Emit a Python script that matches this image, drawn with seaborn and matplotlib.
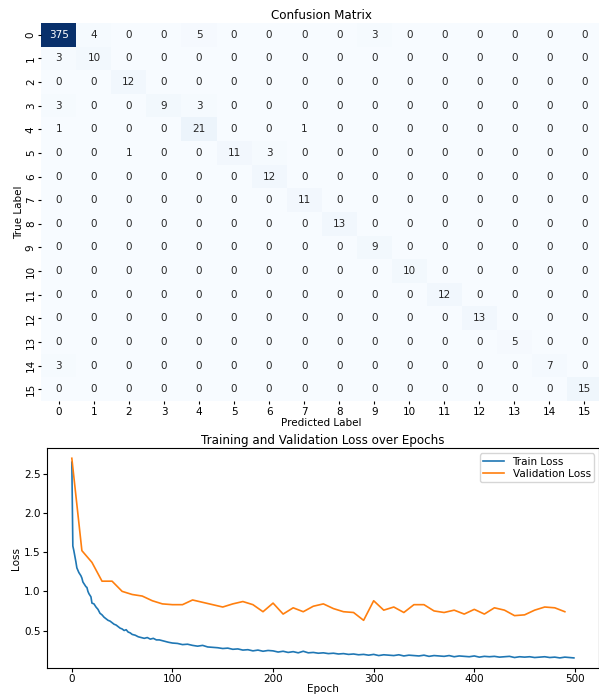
import numpy as np
import pandas as pd
import matplotlib
matplotlib.use("Agg")
import matplotlib.pyplot as plt
import seaborn as sns

labels = [str(i) for i in range(16)]
cm = [
    [375, 4, 0, 0, 5, 0, 0, 0, 0, 3, 0, 0, 0, 0, 0, 0],
    [3, 10, 0, 0, 0, 0, 0, 0, 0, 0, 0, 0, 0, 0, 0, 0],
    [0, 0, 12, 0, 0, 0, 0, 0, 0, 0, 0, 0, 0, 0, 0, 0],
    [3, 0, 0, 9, 3, 0, 0, 0, 0, 0, 0, 0, 0, 0, 0, 0],
    [1, 0, 0, 0, 21, 0, 0, 1, 0, 0, 0, 0, 0, 0, 0, 0],
    [0, 0, 1, 0, 0, 11, 3, 0, 0, 0, 0, 0, 0, 0, 0, 0],
    [0, 0, 0, 0, 0, 0, 12, 0, 0, 0, 0, 0, 0, 0, 0, 0],
    [0, 0, 0, 0, 0, 0, 0, 11, 0, 0, 0, 0, 0, 0, 0, 0],
    [0, 0, 0, 0, 0, 0, 0, 0, 13, 0, 0, 0, 0, 0, 0, 0],
    [0, 0, 0, 0, 0, 0, 0, 0, 0, 9, 0, 0, 0, 0, 0, 0],
    [0, 0, 0, 0, 0, 0, 0, 0, 0, 0, 10, 0, 0, 0, 0, 0],
    [0, 0, 0, 0, 0, 0, 0, 0, 0, 0, 0, 12, 0, 0, 0, 0],
    [0, 0, 0, 0, 0, 0, 0, 0, 0, 0, 0, 0, 13, 0, 0, 0],
    [0, 0, 0, 0, 0, 0, 0, 0, 0, 0, 0, 0, 0, 5, 0, 0],
    [3, 0, 0, 0, 0, 0, 0, 0, 0, 0, 0, 0, 0, 0, 7, 0],
    [0, 0, 0, 0, 0, 0, 0, 0, 0, 0, 0, 0, 0, 0, 0, 15],
]

train_epochs = [0, 1, 2, 3, 4, 5, 6, 7, 8, 9, 10, 11, 12, 13, 14, 15, 16, 17, 18, 19,
                20, 22, 24, 26, 28, 30, 32, 34, 36, 38, 40, 42, 44, 46, 48, 50, 52, 54,
                56, 58, 60, 63, 66, 69, 72, 75, 78, 81, 84, 87, 90, 93, 96,
                100, 105, 110, 115, 120, 125, 130, 135, 140, 145, 150, 155, 160, 165,
                170, 175, 180, 185, 190, 195, 200, 205, 210, 215, 220, 225, 230, 235,
                240, 245, 250, 255, 260, 265, 270, 275, 280, 285, 290, 295, 300, 305,
                310, 315, 320, 325, 330, 335, 340, 345, 350, 355, 360, 365, 370, 375,
                380, 385, 390, 395, 400, 405, 410, 415, 420, 425, 430, 435, 440, 445,
                450, 455, 460, 465, 470, 475, 480, 485, 490, 495, 499]
train_loss = [2.65, 1.58, 1.52, 1.45, 1.38, 1.30, 1.27, 1.24, 1.22, 1.20, 1.17, 1.12,
              1.10, 1.08, 1.06, 1.05, 1.00, 0.97, 0.95, 0.93,
              0.85, 0.84, 0.80, 0.77, 0.72, 0.70, 0.67, 0.65, 0.63, 0.62, 0.60, 0.58,
              0.57, 0.55, 0.53, 0.52, 0.50, 0.51, 0.48, 0.47,
              0.45, 0.44, 0.42, 0.41, 0.40, 0.41, 0.39, 0.40, 0.38, 0.38, 0.37, 0.36, 0.35,
              0.34, 0.335, 0.32, 0.325, 0.31, 0.30, 0.31, 0.29, 0.285, 0.28, 0.27,
              0.275, 0.26, 0.265, 0.25, 0.255, 0.24, 0.25, 0.235, 0.245, 0.24, 0.225,
              0.235, 0.22, 0.23, 0.215, 0.235, 0.215, 0.22, 0.21, 0.215, 0.205, 0.21,
              0.20, 0.205, 0.195, 0.20, 0.19, 0.195, 0.185, 0.195, 0.18, 0.19, 0.185,
              0.18, 0.19, 0.175, 0.185, 0.18, 0.175, 0.185, 0.17, 0.18, 0.175, 0.17,
              0.18, 0.165, 0.175, 0.17, 0.165, 0.175, 0.16, 0.17, 0.165, 0.17, 0.16,
              0.165, 0.17, 0.155, 0.165, 0.16, 0.165, 0.155, 0.16, 0.165, 0.155, 0.16,
              0.15, 0.16, 0.155, 0.15]

val_epochs = list(range(0, 500, 10))
val_loss = [2.70, 1.52, 1.37, 1.13, 1.13, 1.00, 0.96, 0.94, 0.88, 0.84,
            0.83, 0.83, 0.89, 0.86, 0.83, 0.80, 0.84, 0.87, 0.83, 0.74,
            0.85, 0.71, 0.79, 0.74, 0.81, 0.84, 0.78, 0.74, 0.73, 0.63,
            0.88, 0.76, 0.80, 0.73, 0.83, 0.83, 0.75, 0.73, 0.76, 0.71,
            0.77, 0.71, 0.79, 0.76, 0.69, 0.70, 0.76, 0.80, 0.79, 0.74]

plt.rcParams['font.family'] = ['DejaVu Sans']
fig = plt.figure(figsize=(5.99, 6.95), dpi=100)

ax1 = fig.add_axes([0.069, 0.423, 0.936, 0.544])
cm_df = pd.DataFrame(cm, index=labels, columns=labels)
sns.heatmap(cm_df, annot=True, fmt="d", cmap="Blues", cbar=False, ax=ax1,
            annot_kws={"fontsize": 7.5})
ax1.set_title("Confusion Matrix", fontsize=8.6, pad=3)
ax1.set_xlabel("Predicted Label", fontsize=7.5, labelpad=1)
ax1.set_ylabel("True Label", fontsize=7.5, labelpad=1)
ax1.tick_params(axis='both', labelsize=7.5, length=2, pad=2)
plt.setp(ax1.get_yticklabels(), rotation=90, va="center")
plt.setp(ax1.get_xticklabels(), rotation=0)

ax2 = fig.add_axes([0.078, 0.039, 0.922, 0.316])
sns.lineplot(x=train_epochs, y=train_loss, ax=ax2, label="Train Loss", color="#1f77b4", linewidth=1.2)
sns.lineplot(x=val_epochs, y=val_loss, ax=ax2, label="Validation Loss", color="#ff7f0e", linewidth=1.2)
ax2.set_title("Training and Validation Loss over Epochs", fontsize=8.6, pad=3)
ax2.set_xlabel("Epoch", fontsize=7.5, labelpad=0)
ax2.set_ylabel("Loss", fontsize=7.5, labelpad=2)
ax2.tick_params(axis='both', labelsize=7.5, length=3, pad=1.5)
ax2.set_xticks([0, 100, 200, 300, 400, 500])
ax2.set_yticks([0.5, 1.0, 1.5, 2.0, 2.5])
ax2.legend(loc="upper right", fontsize=7.5, borderpad=0.3, labelspacing=0.2, handlelength=2.0)

fig.savefig("out.png", dpi=100)
